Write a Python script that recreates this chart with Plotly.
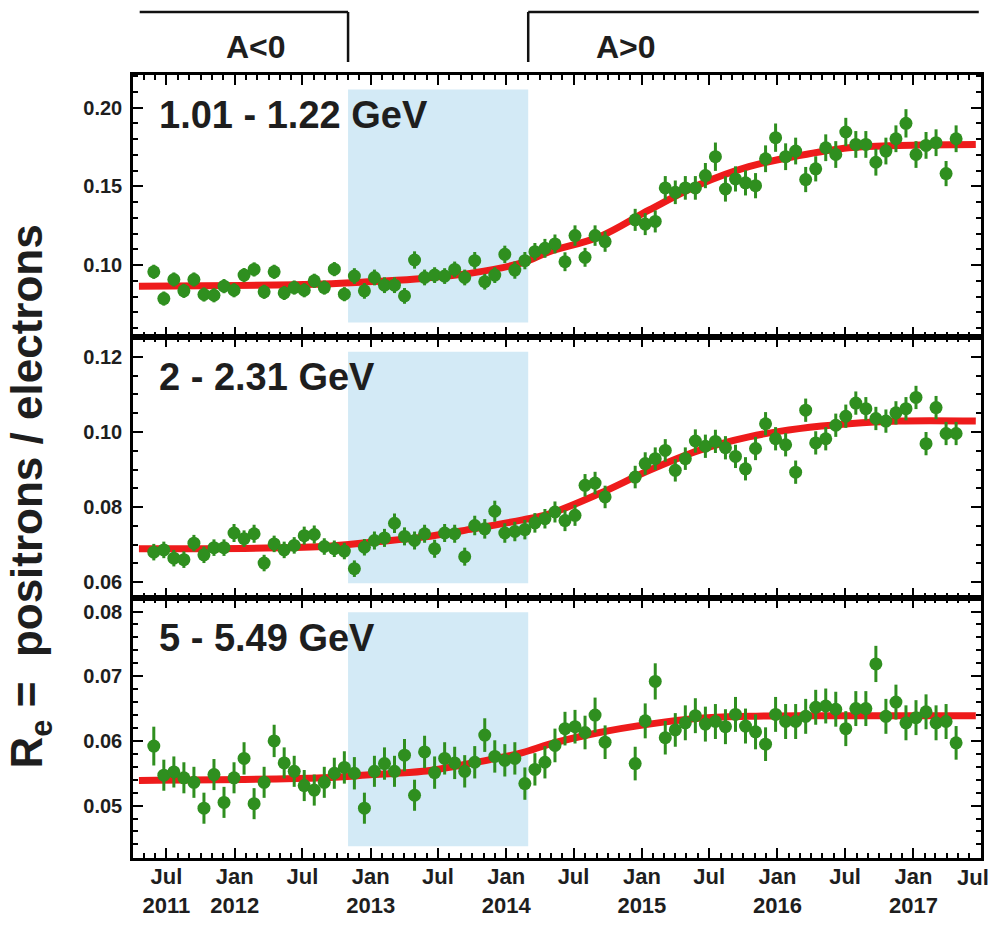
import plotly.graph_objects as go
from plotly.subplots import make_subplots

# ---------------- data ----------------
dates = [
    "2011-05-28", "2011-06-24", "2011-07-21", "2011-08-17", "2011-09-13", "2011-10-10",
    "2011-11-06", "2011-12-03", "2011-12-30", "2012-01-26", "2012-02-22", "2012-03-20",
    "2012-04-16", "2012-05-13", "2012-06-09", "2012-07-06", "2012-08-02", "2012-08-29",
    "2012-09-25", "2012-10-22", "2012-11-18", "2012-12-15", "2013-01-11", "2013-02-07",
    "2013-03-06", "2013-04-02", "2013-04-29", "2013-05-26", "2013-06-22", "2013-07-19",
    "2013-08-15", "2013-09-11", "2013-10-08", "2013-11-04", "2013-12-01", "2013-12-28",
    "2014-01-24", "2014-02-20", "2014-03-19", "2014-04-15", "2014-05-12", "2014-06-08",
    "2014-07-05", "2014-08-01", "2014-08-28", "2014-09-24",
    "2014-12-14", "2015-01-10", "2015-02-06", "2015-03-05", "2015-04-01", "2015-04-28",
    "2015-05-25", "2015-06-21", "2015-07-18", "2015-08-14", "2015-09-10", "2015-10-07",
    "2015-11-03", "2015-11-30", "2015-12-27", "2016-01-23", "2016-02-19", "2016-03-17",
    "2016-04-13", "2016-05-10", "2016-06-06", "2016-07-03", "2016-07-30", "2016-08-26",
    "2016-09-22", "2016-10-19", "2016-11-15", "2016-12-12", "2017-01-08", "2017-02-04",
    "2017-03-03", "2017-03-30", "2017-04-26",
]

ratio_1p01 = [
    0.0957, 0.0787, 0.0908, 0.0836, 0.0908, 0.0813, 0.0808, 0.0866, 0.0840, 0.0936,
    0.0972, 0.0830, 0.0957, 0.0823, 0.0857, 0.0840, 0.0900, 0.0857, 0.0974, 0.0815,
    0.0930, 0.0836, 0.0921, 0.0872, 0.0872, 0.0804, 0.1032, 0.0921, 0.0936, 0.0930,
    0.0972, 0.0921, 0.1028, 0.0894, 0.0936, 0.1068, 0.0968, 0.1028, 0.1085, 0.1106,
    0.1134, 0.1021, 0.1187, 0.1049, 0.1187, 0.1149,
    0.1287, 0.1260, 0.1277, 0.1490, 0.1462, 0.1490, 0.1490, 0.1568, 0.1688, 0.1483,
    0.1547, 0.1522, 0.1504, 0.1675, 0.1809, 0.1688, 0.1724, 0.1543, 0.1611, 0.1745,
    0.1702, 0.1845, 0.1766, 0.1766, 0.1653, 0.1724, 0.1802, 0.1900, 0.1702, 0.1760,
    0.1777, 0.1581, 0.1802,
]
err_1p01 = [
    0.0045, 0.0045, 0.0045, 0.0045, 0.0045, 0.0045, 0.0045, 0.0045, 0.0045, 0.0045,
    0.0045, 0.0045, 0.0045, 0.0045, 0.0045, 0.0045, 0.0045, 0.0045, 0.0045, 0.0045,
    0.0050, 0.0050, 0.0050, 0.0050, 0.0050, 0.0050, 0.0055, 0.0050, 0.0050, 0.0050,
    0.0050, 0.0050, 0.0055, 0.0050, 0.0050, 0.0055, 0.0055, 0.0055, 0.0055, 0.0060,
    0.0060, 0.0060, 0.0065, 0.0060, 0.0065, 0.0065,
    0.0070, 0.0070, 0.0070, 0.0075, 0.0075, 0.0075, 0.0075, 0.0080, 0.0090, 0.0080,
    0.0080, 0.0080, 0.0080, 0.0085, 0.0090, 0.0085, 0.0085, 0.0080, 0.0080, 0.0085,
    0.0085, 0.0090, 0.0085, 0.0085, 0.0085, 0.0085, 0.0085, 0.0090, 0.0085, 0.0085,
    0.0085, 0.0080, 0.0085,
]

ratio_2p00 = [
    0.0680, 0.0686, 0.0664, 0.0660, 0.0704, 0.0673, 0.0692, 0.0692, 0.0731, 0.0716,
    0.0729, 0.0651, 0.0702, 0.0686, 0.0698, 0.0724, 0.0727, 0.0695, 0.0689, 0.0683,
    0.0636, 0.0693, 0.0711, 0.0718, 0.0757, 0.0722, 0.0711, 0.0729, 0.0689, 0.0731,
    0.0729, 0.0668, 0.0751, 0.0742, 0.0789, 0.0731, 0.0735, 0.0740, 0.0758, 0.0769,
    0.0787, 0.0764, 0.0778, 0.0858, 0.0864, 0.0827,
    0.0880, 0.0916, 0.0929, 0.0951, 0.0898, 0.0929, 0.0976, 0.0962, 0.0975, 0.0958,
    0.0935, 0.0902, 0.0956, 0.1022, 0.0982, 0.0966, 0.0893, 0.1058, 0.0971, 0.0982,
    0.1018, 0.1042, 0.1077, 0.1062, 0.1036, 0.1029, 0.1051, 0.1062, 0.1092, 0.0969,
    0.1065, 0.0996, 0.0996,
]
err_2p00 = [
    0.0022, 0.0022, 0.0022, 0.0022, 0.0022, 0.0022, 0.0022, 0.0022, 0.0024, 0.0022,
    0.0024, 0.0022, 0.0022, 0.0022, 0.0022, 0.0024, 0.0024, 0.0022, 0.0022, 0.0022,
    0.0022, 0.0022, 0.0024, 0.0024, 0.0026, 0.0024, 0.0024, 0.0024, 0.0024, 0.0024,
    0.0024, 0.0024, 0.0026, 0.0026, 0.0028, 0.0026, 0.0026, 0.0026, 0.0026, 0.0026,
    0.0028, 0.0028, 0.0028, 0.0030, 0.0030, 0.0030,
    0.0030, 0.0030, 0.0030, 0.0030, 0.0030, 0.0030, 0.0031, 0.0031, 0.0031, 0.0031,
    0.0031, 0.0031, 0.0031, 0.0031, 0.0031, 0.0031, 0.0031, 0.0031, 0.0031, 0.0031,
    0.0031, 0.0031, 0.0031, 0.0031, 0.0031, 0.0031, 0.0031, 0.0031, 0.0031, 0.0031,
    0.0031, 0.0031, 0.0031,
]

ratio_5p00 = [
    0.0592, 0.0547, 0.0552, 0.0543, 0.0536, 0.0496, 0.0548, 0.0505, 0.0543, 0.0573,
    0.0503, 0.0536, 0.0600, 0.0566, 0.0553, 0.0531, 0.0524, 0.0536, 0.0550, 0.0559,
    0.0550, 0.0496, 0.0553, 0.0565, 0.0553, 0.0578, 0.0516, 0.0583, 0.0551, 0.0573,
    0.0566, 0.0553, 0.0567, 0.0609, 0.0576, 0.0570, 0.0573, 0.0534, 0.0556, 0.0567,
    0.0593, 0.0619, 0.0622, 0.0613, 0.0640, 0.0598,
    0.0565, 0.0631, 0.0692, 0.0605, 0.0617, 0.0628, 0.0639, 0.0626, 0.0630, 0.0622,
    0.0641, 0.0623, 0.0614, 0.0595, 0.0641, 0.0630, 0.0630, 0.0638, 0.0652, 0.0654,
    0.0649, 0.0619, 0.0650, 0.0650, 0.0719, 0.0638, 0.0660, 0.0628, 0.0636, 0.0645,
    0.0628, 0.0630, 0.0597,
]
err_5p00 = [
    0.0030, 0.0024, 0.0024, 0.0024, 0.0024, 0.0024, 0.0024, 0.0024, 0.0024, 0.0025,
    0.0024, 0.0024, 0.0025, 0.0024, 0.0024, 0.0024, 0.0024, 0.0024, 0.0024, 0.0025,
    0.0025, 0.0024, 0.0024, 0.0025, 0.0024, 0.0025, 0.0024, 0.0025, 0.0025, 0.0025,
    0.0025, 0.0025, 0.0025, 0.0026, 0.0025, 0.0025, 0.0025, 0.0025, 0.0025, 0.0025,
    0.0026, 0.0026, 0.0026, 0.0026, 0.0027, 0.0026,
    0.0026, 0.0027, 0.0028, 0.0026, 0.0026, 0.0027, 0.0027, 0.0027, 0.0027, 0.0027,
    0.0027, 0.0027, 0.0027, 0.0026, 0.0027, 0.0027, 0.0027, 0.0027, 0.0027, 0.0027,
    0.0027, 0.0027, 0.0027, 0.0027, 0.0028, 0.0027, 0.0027, 0.0027, 0.0027, 0.0027,
    0.0027, 0.0027, 0.0026,
]

fit_dates = [
    "2011-04-18", "2012-08-26", "2013-01-07", "2013-05-22", "2013-10-03", "2014-02-14",
    "2014-04-27", "2014-09-09", "2015-01-21", "2015-06-04", "2015-10-16", "2016-02-28",
    "2016-07-11", "2016-11-23", "2017-06-18",
]
fit_1p01 = [0.0866, 0.0879, 0.0895, 0.0915, 0.0950, 0.1015, 0.1085, 0.1180, 0.1350,
            0.1510, 0.1625, 0.1695, 0.1745, 0.1760, 0.1766]
fit_2p00 = [0.0689, 0.0695, 0.0707, 0.0720, 0.0742, 0.0766, 0.0782, 0.0836, 0.0898,
            0.0951, 0.0987, 0.1009, 0.1022, 0.1029, 0.1029]
fit_5p00 = [0.0539, 0.0543, 0.0548, 0.0553, 0.0566, 0.0582, 0.0595, 0.0613, 0.0626,
            0.0635, 0.0638, 0.0639, 0.0639, 0.0639, 0.0639]

panel_labels = ["1.01 - 1.22 GeV", "2 - 2.31 GeV", "5 - 5.49 GeV"]

tick_dates = ["2011-07-01", "2012-01-01", "2012-07-01", "2013-01-01", "2013-07-01",
              "2014-01-01", "2014-07-01", "2015-01-01", "2015-07-01", "2016-01-01",
              "2016-07-01", "2017-01-01", "2017-07-01"]
tick_text = ["Jul<br>2011", "Jan<br>2012", "Jul", "Jan<br>2013", "Jul", "Jan<br>2014",
             "Jul", "Jan<br>2015", "Jul", "Jan<br>2016", "Jul", "Jan<br>2017", ""]
last_tick_text = "Jul"   # drawn as annotation so it stays inside the page

reversal_start = "2012-11-01"
reversal_end = "2014-03-01"

# ---------------- style ----------------
GREEN = "#2f8f1f"
RED = "#ee1b1b"
SHADE = "#d3eaf6"
FONT = "Liberation Sans, Arial, sans-serif"
TXT = "#1e1e1e"

fig = make_subplots(rows=3, cols=1, shared_xaxes=True, vertical_spacing=0)

panels = [
    (ratio_1p01, err_1p01, fit_1p01, [0.0543, 0.2207], 0.05, 0.01, (0.0635, 0.2115)),
    (ratio_2p00, err_2p00, fit_2p00, [0.0558, 0.1253], 0.02, 0.005, (0.0597, 0.1214)),
    (ratio_5p00, err_5p00, fit_5p00, [0.0419, 0.0821], 0.01, 0.002, (0.0437, 0.0799)),
]
domains = [[0.6654, 1.0], [0.3321, 0.6654], [0.0, 0.3321]]

for i, (vals, errs, fit, yr, dt, mdt, shade_y) in enumerate(panels):
    row = i + 1
    fig.add_trace(go.Scatter(
        x=fit_dates, y=fit, mode="lines",
        line=dict(color=RED, width=7, shape="spline", smoothing=1.0),
        hoverinfo="skip", showlegend=False), row=row, col=1)
    fig.add_trace(go.Scatter(
        x=dates, y=vals, mode="markers",
        marker=dict(color=GREEN, size=13, line=dict(width=0)),
        error_y=dict(type="data", array=errs, color=GREEN, thickness=3, width=0),
        showlegend=False), row=row, col=1)
    ysuf = "" if i == 0 else str(i + 1)
    fig.add_shape(type="rect", xref="x" + ysuf, yref="y" + ysuf,
                  x0=reversal_start, x1=reversal_end, y0=shade_y[0], y1=shade_y[1],
                  fillcolor=SHADE, line=dict(width=0), layer="below")
    fig.update_yaxes(
        row=row, col=1, domain=domains[i], range=yr, automargin=False,
        tickmode="linear", tick0=0, dtick=dt, tickformat=".2f",
        ticks="inside", ticklen=10, tickwidth=2, tickcolor="black",
        minor=dict(tickmode="linear", tick0=0, dtick=mdt, ticks="inside",
                   ticklen=5, tickwidth=1.5, tickcolor="black"),
        showline=True, linewidth=2.5, linecolor="black", mirror="allticks",
        showgrid=False, zeroline=False, ticklabelstandoff=4,
        tickfont=dict(family=FONT, size=20, color=TXT, weight="bold"),
    )
    fig.update_xaxes(
        row=row, col=1, type="date", range=["2011-04-02", "2017-07-02"], automargin=False,
        tickmode="array", tickvals=tick_dates, ticktext=tick_text,
        showticklabels=(i == 2), ticklabeloverflow="allow",
        ticks="inside", ticklen=10, tickwidth=2, tickcolor="black",
        minor=dict(tickmode="linear", tick0="2011-01-01", dtick="M1", ticks="inside",
                   ticklen=5, tickwidth=1.5, tickcolor="black"),
        showline=True, linewidth=2.5, linecolor="black", mirror="allticks",
        showgrid=False, zeroline=False, ticklabelstandoff=-3,
        tickfont=dict(family=FONT, size=22, color=TXT, weight="bold"),
    )

fig.add_annotation(text=last_tick_text, xref="paper", yref="paper", x=1.0, y=-0.0255,
                   xanchor="right", yanchor="middle", xshift=10, showarrow=False,
                   font=dict(family=FONT, size=22, color=TXT, weight="bold"))

label_y = [0.949, 0.6137, 0.2816]
for txt, yy in zip(panel_labels, label_y):
    fig.add_annotation(text=txt, xref="paper", yref="paper", x=0.0283, y=yy,
                       xanchor="left", yanchor="middle", showarrow=False,
                       font=dict(family=FONT, size=38, color=TXT, weight="bold"))

# polarity brackets above the plot
BR_TOP, BR_BOT = 1.0805, 1.0166
for (xa, ya, xb, yb) in [
    ("2011-04-20", BR_TOP, reversal_start, BR_TOP),
    (reversal_start, BR_TOP, reversal_start, BR_BOT),
    (reversal_end, BR_BOT, reversal_end, BR_TOP),
    (reversal_end, BR_TOP, "2017-06-26", BR_TOP),
]:
    fig.add_shape(type="line", xref="x", yref="paper", x0=xa, y0=ya, x1=xb, y1=yb,
                  line=dict(color="#111", width=2.5))
fig.add_annotation(text="A<0", xref="paper", yref="paper", x=0.1447, y=1.0361,
                   xanchor="center", yanchor="middle", showarrow=False,
                   font=dict(family=FONT, size=32, color=TXT, weight="bold"))
fig.add_annotation(text="A>0", xref="paper", yref="paper", x=0.5811, y=1.0361,
                   xanchor="center", yanchor="middle", showarrow=False,
                   font=dict(family=FONT, size=32, color=TXT, weight="bold"))

fig.add_annotation(text="R<sub>e</sub> =  positrons / electrons", xref="paper", yref="paper",
                   x=-0.121, y=0.4623, textangle=-90, showarrow=False,
                   xanchor="center", yanchor="middle",
                   font=dict(family=FONT, size=44, color=TXT, weight="bold"))

fig.update_layout(
    width=995, height=925, autosize=False,
    margin=dict(l=133, r=14, t=75, b=67, autoexpand=False),
    paper_bgcolor="white", plot_bgcolor="white",
    showlegend=False,
)

fig.write_html("out.html")
